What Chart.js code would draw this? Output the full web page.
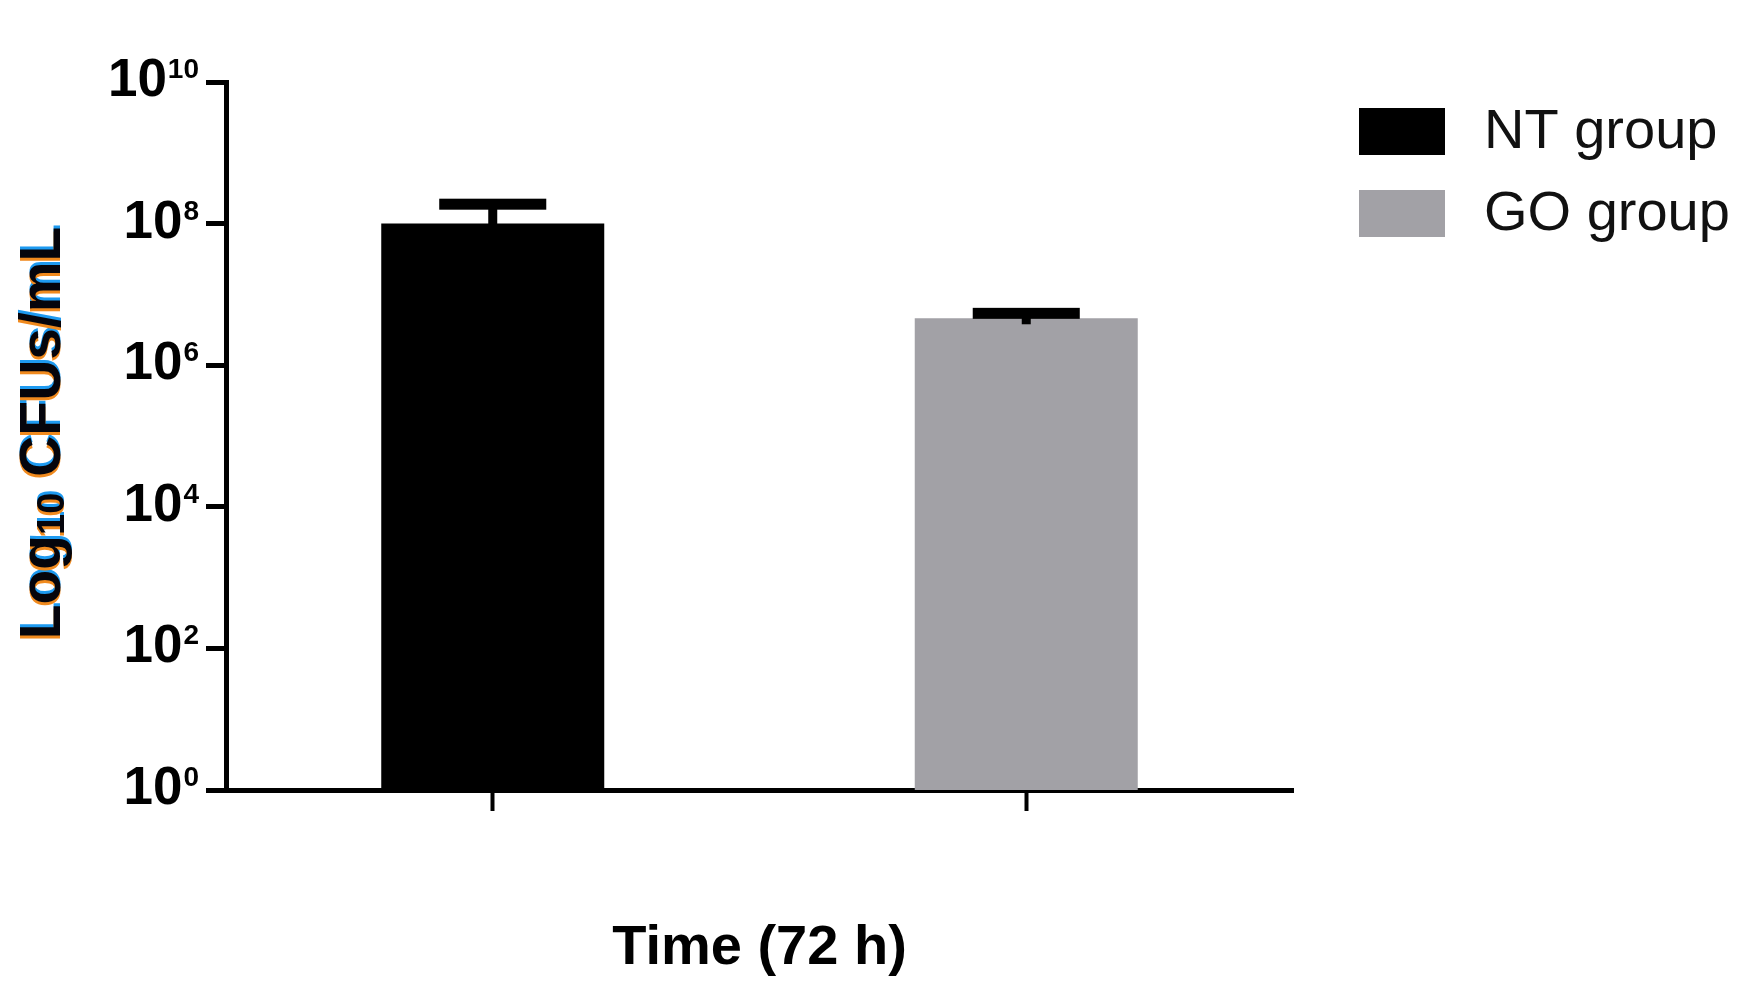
<!DOCTYPE html>
<html>
<head>
<meta charset="utf-8">
<script src="https://cdn.jsdelivr.net/npm/chart.js@4.4.1/dist/chart.umd.min.js"></script>
<style>
    html, body { margin: 0; padding: 0; background: #fff; }
    canvas { display: block; }
</style>
</head>
<body>
<canvas id="chart" width="1753" height="1006"></canvas>
<script>
(function () {
    'use strict';

    // values (CFUs/mL, log axis)
    var groups = ['NT group', 'GO group'];
    var means = [1.0e8, 4.6e6];
    var errors = [0.88e8, 0.8e6];
    var yTicks = [1, 1e2, 1e4, 1e6, 1e8, 1e10];

    var colors = ['#000000', '#a2a1a6'];
    var FONT = '"Liberation Sans", Arial, sans-serif';

    var datasets = groups.map(function (g, i) {
        return {
            label: g,
            data: groups.map(function (_, j) { return j === i ? means[i] : null; }),
            backgroundColor: colors[i],
            borderWidth: 0,
            grouped: false,
            barPercentage: 0.418,
            categoryPercentage: 1
        };
    });

    var errorBars = {
        id: 'errorBars',
        afterDatasetsDraw: function (chart) {
            var ctx = chart.ctx, y = chart.scales.y;
            ctx.save();
            ctx.fillStyle = '#000';
            groups.forEach(function (g, i) {
                var bar = chart.getDatasetMeta(i).data[i];
                if (!bar) { return; }
                var top = y.getPixelForValue(means[i]);
                var cap = y.getPixelForValue(means[i] + errors[i]);
                var capW = bar.width * 0.48;
                ctx.fillRect(bar.x - 4.5, cap, 9, top - cap + 6);
                ctx.fillRect(bar.x - capW / 2, cap - 5.5, capW, 11);
            });
            ctx.restore();
        }
    };

    var decorations = {
        id: 'decorations',
        afterDraw: function (chart) {
            var ctx = chart.ctx, y = chart.scales.y, area = chart.chartArea;
            ctx.save();

            // y tick labels as 10 with superscript exponent
            ctx.fillStyle = '#000';
            ctx.textAlign = 'right';
            ctx.textBaseline = 'alphabetic';
            yTicks.forEach(function (v) {
                var py = y.getPixelForValue(v);
                var base = py + 14;
                var exp = String(Math.round(Math.log10(v)));
                ctx.font = 'bold 28px ' + FONT;
                var ew = ctx.measureText(exp).width;
                ctx.fillText(exp, 199, base - 18);
                ctx.font = 'bold 53px ' + FONT;
                ctx.fillText('10', 199 - ew - 1, base);
            });

            // y axis title, rotated, with the colour fringe of the original
            var drawYTitle = function (color, dx, dy) {
                ctx.save();
                ctx.translate(60 + dx, 433 + dy);
                ctx.rotate(-Math.PI / 2);
                ctx.fillStyle = color;
                ctx.textAlign = 'left';
                ctx.textBaseline = 'alphabetic';
                var big = 'bold 57px ' + FONT, small = 'bold 38px ' + FONT;
                ctx.font = big;
                var w1 = ctx.measureText('Log').width;
                var w3 = ctx.measureText(' CFUs/mL').width;
                ctx.font = small;
                var w2 = ctx.measureText('10').width;
                var x0 = -(w1 + w2 + w3) / 2;
                ctx.font = big;
                ctx.fillText('Log', x0, 0);
                ctx.font = small;
                ctx.fillText('10', x0 + w1, 4);
                ctx.font = big;
                ctx.fillText(' CFUs/mL', x0 + w1 + w2, 0);
                ctx.restore();
            };
            drawYTitle('#1e9af0', 0, -3);
            drawYTitle('#f08a1e', 0, 3);
            drawYTitle('#05050c', 0, 0);

            // x axis title
            ctx.fillStyle = '#000';
            ctx.font = 'bold 56px ' + FONT;
            ctx.textAlign = 'center';
            ctx.textBaseline = 'alphabetic';
            ctx.fillText('Time (72 h)', (area.left + area.right) / 2, 964);

            // legend
            ctx.textAlign = 'left';
            ctx.font = '56px ' + FONT;
            chart.data.datasets.forEach(function (ds, i) {
                var top = 108 + i * 82;
                ctx.fillStyle = ds.backgroundColor;
                ctx.fillRect(1359, top, 86, 47);
                ctx.fillStyle = '#111';
                ctx.fillText(ds.label, 1484, top + 40);
            });

            ctx.restore();
        }
    };

    new Chart(document.getElementById('chart'), {
        type: 'bar',
        data: { labels: groups, datasets: datasets },
        options: {
            responsive: false,
            animation: false,
            devicePixelRatio: 1,
            layout: { padding: { left: 206, top: 82, right: 460, bottom: 195 } },
            plugins: { legend: { display: false }, tooltip: { enabled: false } },
            scales: {
                x: {
                    type: 'category',
                    offset: true,
                    border: { display: true, color: '#000', width: 5 },
                    grid: {
                        offset: false,
                        drawOnChartArea: false,
                        drawTicks: true,
                        tickLength: 21,
                        tickWidth: 4,
                        tickColor: '#000'
                    },
                    ticks: { display: false }
                },
                y: {
                    type: 'logarithmic',
                    min: 1,
                    max: 1e10,
                    afterBuildTicks: function (scale) {
                        scale.ticks = yTicks.map(function (v) { return { value: v }; });
                    },
                    border: { display: true, color: '#000', width: 5 },
                    grid: {
                        drawOnChartArea: false,
                        drawTicks: true,
                        tickLength: 20,
                        tickWidth: 5,
                        tickColor: '#000'
                    },
                    ticks: { display: false }
                }
            }
        },
        plugins: [errorBars, decorations]
    });
}());
</script>
</body>
</html>
